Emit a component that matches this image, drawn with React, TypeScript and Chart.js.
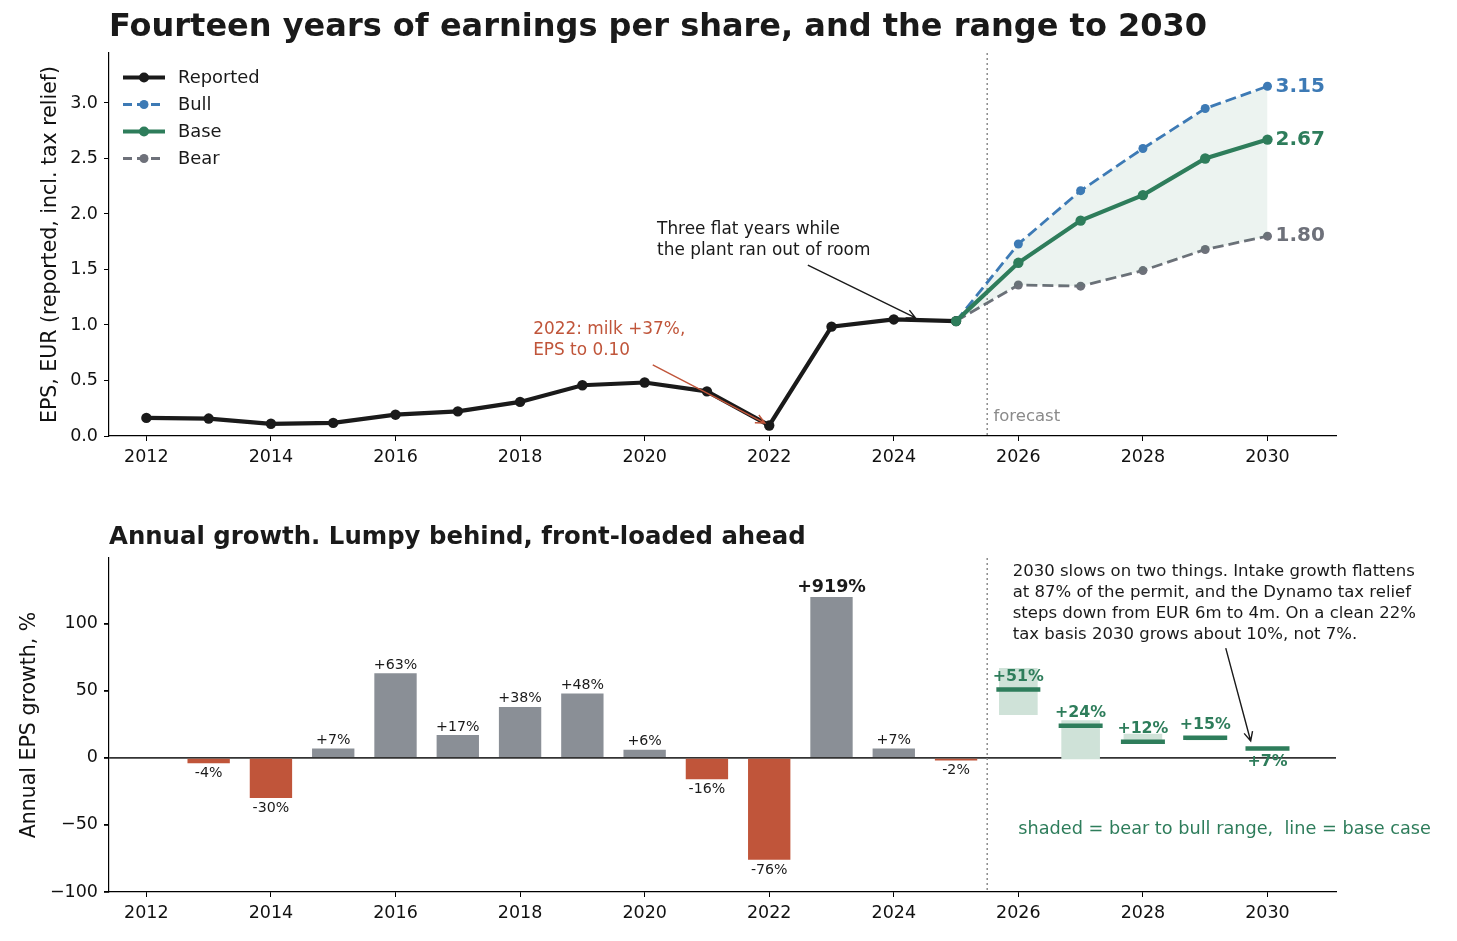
import { useEffect, useRef } from 'react'
import { Chart, registerables } from 'chart.js'

Chart.register(...registerables)

const FONT = '"DejaVu Sans", "Noto Sans", sans-serif'

// EPS, EUR
const histYears = [2012, 2013, 2014, 2015, 2016, 2017, 2018, 2019, 2020, 2021, 2022, 2023, 2024, 2025]
const reportedEps = [0.163, 0.157, 0.11, 0.118, 0.192, 0.222, 0.307, 0.457, 0.482, 0.402, 0.095, 0.985, 1.05, 1.035]
const fcYears = [2025, 2026, 2027, 2028, 2029, 2030]
const bullEps = [1.035, 1.73, 2.21, 2.59, 2.95, 3.15]
const baseEps = [1.035, 1.56, 1.94, 2.17, 2.5, 2.67]
const bearEps = [1.035, 1.36, 1.35, 1.49, 1.68, 1.8]

// annual growth, %
const growthYears = [2013, 2014, 2015, 2016, 2017, 2018, 2019, 2020, 2021, 2022, 2023, 2024, 2025]
const growthPct = [-4, -30, 7, 63, 17, 38, 48, 6, -16, -76, 919, 7, -2]
const growthCap = 120
const fcGrowthYears = [2026, 2027, 2028, 2029, 2030]
const baseGrowth = [51, 24, 12, 15, 7]
const bearGrowth = [32, -1, 10.5, 13.2, 7.1]
const bullGrowth = [67, 28, 18, 14, 7.8]

const yearTicks = [2012, 2014, 2016, 2018, 2020, 2022, 2024, 2026, 2028, 2030]
const epsTicks = [0, 0.5, 1, 1.5, 2, 2.5, 3]
const growthTicks = [-100, -50, 0, 50, 100]

const X_MIN = 2011.4
const X_MAX = 2031.1
const FORECAST_START = 2025.5

const BLACK = '#1a1a1a'
const BLUE = '#3d7ab5'
const GREEN = '#2e7d5b'
const GREY = '#6e717a'
const BAR_GREY = '#8a8f96'
const BAR_RED = '#c0553a'
const RANGE_GREEN = '#cfe2d8'

function arrow(ctx: CanvasRenderingContext2D, x1: number, y1: number, x2: number, y2: number, color: string) {
  const a = Math.atan2(y2 - y1, x2 - x1)
  ctx.save()
  ctx.strokeStyle = color
  ctx.lineWidth = 1.4
  ctx.beginPath()
  ctx.moveTo(x1, y1)
  ctx.lineTo(x2, y2)
  ctx.moveTo(x2 - 10 * Math.cos(a - 0.45), y2 - 10 * Math.sin(a - 0.45))
  ctx.lineTo(x2, y2)
  ctx.lineTo(x2 - 10 * Math.cos(a + 0.45), y2 - 10 * Math.sin(a + 0.45))
  ctx.stroke()
  ctx.restore()
}

function forecastLine(chart: Chart) {
  const { ctx, chartArea } = chart
  const x = chart.scales.x.getPixelForValue(FORECAST_START)
  ctx.save()
  ctx.strokeStyle = '#8c8c8c'
  ctx.lineWidth = 1.5
  ctx.setLineDash([2, 3])
  ctx.beginPath()
  ctx.moveTo(x, chartArea.top)
  ctx.lineTo(x, chartArea.bottom)
  ctx.stroke()
  ctx.restore()
}

const xAxis = (h: number) => ({
  type: 'linear' as const,
  min: X_MIN,
  max: X_MAX,
  offset: false,
  afterBuildTicks: (s: any) => { s.ticks = yearTicks.map((v) => ({ value: v })) },
  afterFit: (s: any) => { s.height = h },
  grid: { drawOnChartArea: false, offset: false, tickLength: 5, tickColor: '#000' },
  border: { color: '#000', width: 1.2 },
  ticks: { font: { family: FONT, size: 17.5 }, color: '#111', padding: 6, callback: (v: any) => String(v) },
})

function EpsChart() {
  const ref = useRef<HTMLCanvasElement>(null)
  useEffect(() => {
    if (!ref.current) return
    const pt = (xs: number[], ys: number[]) => xs.map((x, i) => ({ x, y: ys[i] }))
    const legendItems = [
      { label: 'Reported', color: BLACK, width: 4, dash: [] as number[], r: 5 },
      { label: 'Bull', color: BLUE, width: 2.8, dash: [9, 5], r: 4.5 },
      { label: 'Base', color: GREEN, width: 4, dash: [] as number[], r: 5 },
      { label: 'Bear', color: GREY, width: 2.8, dash: [9, 5], r: 4.5 },
    ]
    const chart = new Chart(ref.current, {
      type: 'line',
      data: {
        datasets: [
          { label: 'Reported', data: pt(histYears, reportedEps), borderColor: BLACK, backgroundColor: BLACK, borderWidth: 4.2, pointRadius: 5.2, pointBorderWidth: 0, order: 1 },
          { label: 'Bull', data: pt(fcYears, bullEps), borderColor: BLUE, pointBackgroundColor: BLUE, backgroundColor: 'rgba(46,125,91,0.09)', fill: '+2', borderDash: [11, 5], borderWidth: 2.8, pointRadius: 4.5, pointBorderWidth: 0, order: 2 },
          { label: 'Base', data: pt(fcYears, baseEps), borderColor: GREEN, backgroundColor: GREEN, borderWidth: 4.2, pointRadius: 5.2, pointBorderWidth: 0, order: 0 },
          { label: 'Bear', data: pt(fcYears, bearEps), borderColor: GREY, backgroundColor: GREY, borderDash: [11, 5], borderWidth: 2.8, pointRadius: 4.5, pointBorderWidth: 0, order: 3 },
        ],
      },
      options: {
        animation: false,
        responsive: false,
        events: [],
        layout: { padding: { left: 9, right: 121, top: 53, bottom: 0 } },
        plugins: { legend: { display: false }, tooltip: { enabled: false } },
        scales: {
          x: xAxis(34),
          y: {
            min: 0,
            max: 3.45,
            afterBuildTicks: (s: any) => { s.ticks = epsTicks.map((v) => ({ value: v })) },
            afterFit: (s: any) => { s.width = 100 },
            grid: { drawOnChartArea: false, tickLength: 5, tickColor: '#000' },
            border: { color: '#000', width: 1.2 },
            ticks: { font: { family: FONT, size: 17.5 }, color: '#111', padding: 6, callback: (v: any) => Number(v).toFixed(1) },
            title: { display: true, text: 'EPS, EUR (reported, incl. tax relief)', font: { family: FONT, size: 20.5 }, color: '#111', padding: { top: 29, bottom: 0 } },
          },
        },
      },
      plugins: [
        {
          id: 'epsNotes',
          beforeDatasetsDraw: (c: Chart) => forecastLine(c),
          afterDraw: (c: Chart) => {
            const { ctx } = c
            const x = c.scales.x
            const y = c.scales.y
            const px = (v: number) => x.getPixelForValue(v)
            const py = (v: number) => y.getPixelForValue(v)
            ctx.save()
            ctx.textBaseline = 'middle'
            // end labels
            ctx.font = `bold 20px ${FONT}`
            ;[[bullEps, BLUE], [baseEps, GREEN], [bearEps, GREY]].forEach(([arr, col]: any) => {
              const v = arr[arr.length - 1]
              ctx.fillStyle = col
              ctx.fillText(v.toFixed(2), px(2030) + 8, py(v))
            })
            // annotations
            ctx.font = `16.9px ${FONT}`
            ctx.fillStyle = '#1a1a1a'
            ctx.fillText('Three flat years while', px(2020.2), py(1.856))
            ctx.fillText('the plant ran out of room', px(2020.2), py(1.667))
            arrow(ctx, px(2022.62), py(1.54), px(2024.35), py(1.063), '#1a1a1a')
            ctx.fillStyle = '#c0553a'
            ctx.fillText('2022: milk +37%,', px(2018.21), py(0.955))
            ctx.fillText('EPS to 0.10', px(2018.21), py(0.766))
            arrow(ctx, px(2020.13), py(0.64), px(2021.93), py(0.117), '#c0553a')
            ctx.font = `16.5px ${FONT}`
            ctx.fillStyle = '#8a8a8a'
            ctx.fillText('forecast', px(2025.6), py(0.17))
            // legend
            legendItems.forEach((it, i) => {
              const ly = 77.5 + i * 27
              ctx.strokeStyle = it.color
              ctx.lineWidth = it.width
              ctx.setLineDash(it.dash)
              ctx.beginPath()
              ctx.moveTo(123, ly)
              ctx.lineTo(165, ly)
              ctx.stroke()
              ctx.setLineDash([])
              ctx.fillStyle = it.color
              ctx.beginPath()
              ctx.arc(144, ly, it.r, 0, Math.PI * 2)
              ctx.fill()
              ctx.fillStyle = '#1a1a1a'
              ctx.font = `17.9px ${FONT}`
              ctx.fillText(it.label, 178, ly + 1)
            })
            ctx.restore()
          },
        },
      ],
    })
    return () => { chart.destroy() }
  }, [])
  return <canvas ref={ref} width={1457} height={470} style={{ position: 'absolute', left: 0, top: 0, width: 1457, height: 470 }} />
}

function GrowthChart() {
  const ref = useRef<HTMLCanvasElement>(null)
  useEffect(() => {
    if (!ref.current) return
    const chart = new Chart(ref.current, {
      type: 'bar',
      data: {
        datasets: [
          {
            type: 'bar',
            label: 'Reported growth',
            data: growthYears.map((x, i) => ({ x, y: Math.min(growthPct[i], growthCap) })),
            backgroundColor: growthPct.map((v) => (v < 0 ? BAR_RED : BAR_GREY)),
            barPercentage: 0.68,
            categoryPercentage: 1,
            grouped: false,
            order: 2,
          },
          {
            type: 'bar',
            label: 'Bear to bull',
            data: fcGrowthYears.map((x, i) => ({ x, y: [bearGrowth[i], bullGrowth[i]] })),
            backgroundColor: RANGE_GREEN,
            barPercentage: 0.62,
            categoryPercentage: 1,
            grouped: false,
            order: 1,
          },
          {
            type: 'line',
            label: 'Base case',
            data: fcGrowthYears.map((x, i) => ({ x, y: baseGrowth[i] })),
            showLine: false,
            pointStyle: 'line',
            pointRadius: 22,
            pointBorderWidth: 4.5,
            pointBorderColor: GREEN,
            borderColor: GREEN,
            order: 0,
          },
        ] as any,
      },
      options: {
        animation: false,
        responsive: false,
        events: [],
        layout: { padding: { left: 9, right: 121, top: 88, bottom: 15 } },
        plugins: { legend: { display: false }, tooltip: { enabled: false } },
        scales: {
          x: xAxis(34),
          y: {
            min: -100,
            max: 149,
            afterBuildTicks: (s: any) => { s.ticks = growthTicks.map((v) => ({ value: v })) },
            afterFit: (s: any) => { s.width = 100 },
            grid: {
              drawOnChartArea: true,
              tickLength: 5,
              tickColor: '#000',
              color: (c: any) => (c.tick && c.tick.value === 0 ? '#333' : 'rgba(0,0,0,0)'),
              lineWidth: 1.8,
            },
            border: { color: '#000', width: 1.2 },
            ticks: { font: { family: FONT, size: 17.5 }, color: '#111', padding: 6, callback: (v: any) => String(v).replace('-', '\u2212') },
            title: { display: true, text: 'Annual EPS growth, %', font: { family: FONT, size: 20.5 }, color: '#111', padding: { top: 8, bottom: 0 } },
          },
        },
      },
      plugins: [
        {
          id: 'growthNotes',
          beforeDatasetsDraw: (c: Chart) => forecastLine(c),
          afterDatasetsDraw: (c: Chart) => {
            const { ctx } = c
            const x = c.scales.x
            const y = c.scales.y
            const px = (v: number) => x.getPixelForValue(v)
            const py = (v: number) => y.getPixelForValue(v)
            ctx.save()
            ctx.textAlign = 'center'
            growthYears.forEach((yr, i) => {
              const v = growthPct[i]
              const label = (v > 0 ? '+' : '') + v + '%'
              if (v > growthCap) {
                ctx.font = `bold 17.5px ${FONT}`
                ctx.fillStyle = '#1a1a1a'
                ctx.textBaseline = 'bottom'
                ctx.fillText(label, px(yr), py(growthCap) - 1)
                return
              }
              ctx.font = `14.2px ${FONT}`
              ctx.fillStyle = '#1a1a1a'
              if (v >= 0) {
                ctx.textBaseline = 'bottom'
                ctx.fillText(label, px(yr), py(v) - 1)
              } else {
                ctx.textBaseline = 'top'
                ctx.fillText(label, px(yr), py(v) + 3)
              }
            })
            ctx.font = `bold 15.8px ${FONT}`
            ctx.fillStyle = GREEN
            ctx.textBaseline = 'middle'
            fcGrowthYears.forEach((yr, i) => {
              const v = baseGrowth[i]
              const below = yr === 2030
              ctx.fillText('+' + v + '%', px(yr), py(v) + (below ? 13 : -13))
            })
            ctx.restore()
          },
          afterDraw: (c: Chart) => {
            const { ctx } = c
            const px = (v: number) => c.scales.x.getPixelForValue(v)
            const py = (v: number) => c.scales.y.getPixelForValue(v)
            ctx.save()
            ctx.textBaseline = 'middle'
            ctx.font = `16.5px ${FONT}`
            ctx.fillStyle = '#1a1a1a'
            const lines = [
              '2030 slows on two things. Intake growth flattens',
              'at 87% of the permit, and the Dynamo tax relief',
              'steps down from EUR 6m to 4m. On a clean 22%',
              'tax basis 2030 grows about 10%, not 7%.',
            ]
            lines.forEach((t, i) => ctx.fillText(t, px(2025.91), py(139) + i * 21))
            arrow(ctx, px(2029.33), py(81.8), px(2029.73), py(12.6), '#1a1a1a')
            ctx.font = `17.7px ${FONT}`
            ctx.fillStyle = GREEN
            ctx.fillText('shaded = bear to bull range,  line = base case', px(2026.0), py(-53.5))
            ctx.restore()
          },
        },
      ],
    })
    return () => { chart.destroy() }
  }, [])
  return <canvas ref={ref} width={1457} height={471} style={{ position: 'absolute', left: 0, top: 470, width: 1457, height: 471 }} />
}

export default function App() {
  const title = { position: 'absolute' as const, left: 109, margin: 0, fontFamily: FONT, fontWeight: 'bold' as const, color: '#1a1a1a', whiteSpace: 'nowrap' as const }
  return (
    <div style={{ position: 'absolute', left: 0, top: 0, width: 1457, height: 941, background: '#fff', overflow: 'hidden' }}>
      <EpsChart />
      <GrowthChart />
      <div style={{ ...title, top: 8.6, fontSize: 32, lineHeight: '32px' }}>Fourteen years of earnings per share, and the range to 2030</div>
      <div style={{ ...title, top: 524, fontSize: 24.4, lineHeight: '24.4px' }}>Annual growth. Lumpy behind, front-loaded ahead</div>
    </div>
  )
}
